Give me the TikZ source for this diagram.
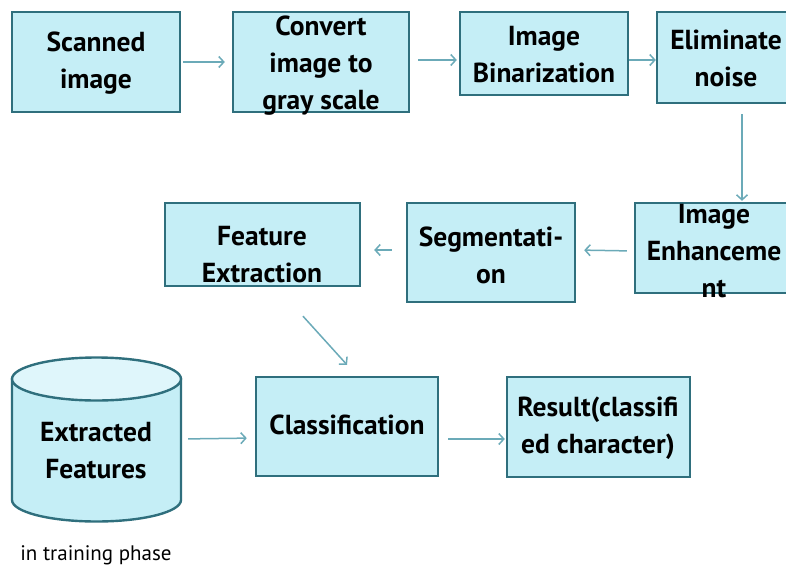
\documentclass[tikz,border=0pt]{standalone}
\usepackage{fontspec}
\setmainfont{PT Sans}
\usetikzlibrary{arrows.meta,calc}
\definecolor{boxfill}{HTML}{C5EEF6}
\definecolor{topfill}{HTML}{DFF6FB}
\definecolor{boxline}{HTML}{2F6F7D}
\definecolor{arrcol}{HTML}{6BAAB8}
\begin{document}
\begin{tikzpicture}[x=1pt,y=-1pt,
  box/.style={draw=boxline, fill=boxfill, line width=2.4pt, rectangle, inner sep=0pt},
  txt/.style={font=\bfseries\fontsize{27.5}{37}\selectfont, align=center, inner sep=0pt, text=black},
  arr/.style={draw=arrcol, line width=1.5pt, -{Straight Barb[length=5pt,width=11pt,line width=1.5pt]}},
  note/.style={font=\fontsize{21}{24}\selectfont, inner sep=0pt, text=black}]
\useasboundingbox (0,0) rectangle (786,570);
% boxes
\node[box, minimum width=168pt, minimum height=100pt] (scan) at (96,62) {};
\node[box, minimum width=176pt, minimum height=100pt] (conv) at (321,62) {};
\node[box, minimum width=168pt, minimum height=83pt] (bin) at (544,53.5) {};
\node[box, minimum width=138pt, minimum height=91pt] (elim) at (726,57.5) {};
\node[box, minimum width=160pt, minimum height=90pt] (enh) at (715,248) {};
\node[box, minimum width=168pt, minimum height=99pt] (seg) at (491,252.5) {};
\node[box, minimum width=195pt, minimum height=83pt] (feat) at (262.5,244.5) {};
\node[box, minimum width=182pt, minimum height=99pt] (cls) at (347,426.5) {};
\node[box, minimum width=183pt, minimum height=100pt] (res) at (598.5,427) {};
% cylinder
\node[inner sep=0pt, minimum width=169pt, minimum height=164pt] (cyl) at (96.5,440) {};
\filldraw[fill=boxfill, draw=boxline, line width=2.4pt] (12,379) -- (12,500)
  arc[start angle=180, end angle=360, x radius=84.5pt, y radius=21.5pt] -- (181,379) -- cycle;
\filldraw[fill=topfill, draw=boxline, line width=2.4pt] (96.5,379) ellipse[x radius=84.5pt, y radius=21.5pt];
% texts
\node[txt] (scant) at (96,63) {Scanned\\image};
\node[txt] (convt) at (321,66) {Convert\\image to\\gray scale};
\node[txt] (bint) at (544,55) {Image\\Binarization};
\node[txt] (elimt) at (726,58) {Eliminate\\noise};
\node[txt] (enht) at (714,251) {Image\\Enhanceme\\nt};
\node[txt] (segt) at (491,255) {Segmentati-\\on};
\node[txt] (featt) at (262,255) {Feature\\Extraction};
\node[txt] (clst) at (347,425) {Classification};
\node[txt] (rest) at (598,428) {Result(classifi\\ed character)};
\node[txt] (cylt) at (96,451) {Extracted\\Features};
\node[note] (phase) at (96,555) {in training phase};
% arrows
\draw[arr, shorten <=2pt, shorten >=7pt] (scan.east) -- (conv.west);
\draw[arr, shorten <=8pt, shorten >=2pt] ([yshift=2pt]conv.east) -- ([yshift=-6.5pt]bin.west);
\draw[arr] ([yshift=-6.5pt]bin.east) -- ([yshift=-2.5pt]elim.west);
\draw[arr, shorten <=10pt, shorten >=1pt] ([xshift=16pt]elim.south) -- ([xshift=27pt]enh.north);
\draw[arr, shorten <=7pt, shorten >=8pt] ([yshift=-3pt]enh.west) -- ([yshift=2.5pt]seg.west -| seg.east);
\draw[arr, shorten <=14pt, shorten >=13pt] ([yshift=2.5pt]seg.west) -- ([yshift=-5.5pt]feat.east);
\draw[arr] ($(feat.south)+(40.5,29)$) -- ($(cls.north)+(0,-11)$);
\draw[arr, shorten <=7pt, shorten >=8pt] ([yshift=1pt]cyl.east) -- ([yshift=-11.5pt]cls.west);
\draw[arr, shorten <=9pt, shorten >=1pt] ([yshift=-12.5pt]cls.east) -- ([yshift=-12pt]res.west);
\end{tikzpicture}
\end{document}
